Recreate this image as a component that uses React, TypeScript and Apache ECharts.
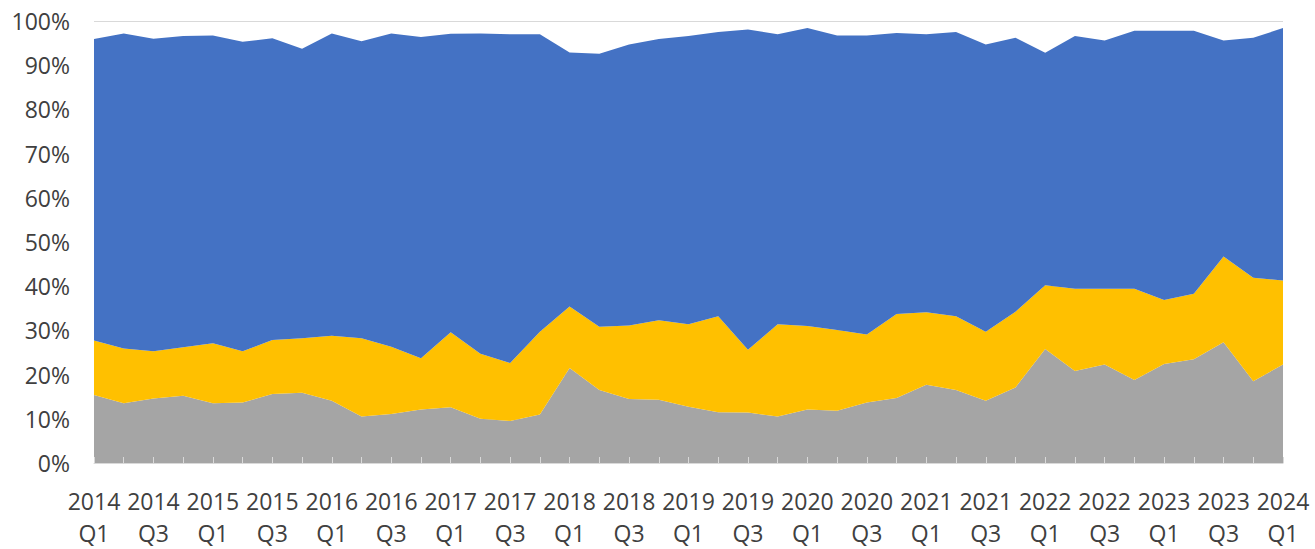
import React, { useEffect, useRef } from "react";
import * as echarts from "echarts";

const categories: string[] = [
  "2014\nQ1", "2014\nQ2", "2014\nQ3", "2014\nQ4",
  "2015\nQ1", "2015\nQ2", "2015\nQ3", "2015\nQ4",
  "2016\nQ1", "2016\nQ2", "2016\nQ3", "2016\nQ4",
  "2017\nQ1", "2017\nQ2", "2017\nQ3", "2017\nQ4",
  "2018\nQ1", "2018\nQ2", "2018\nQ3", "2018\nQ4",
  "2019\nQ1", "2019\nQ2", "2019\nQ3", "2019\nQ4",
  "2020\nQ1", "2020\nQ2", "2020\nQ3", "2020\nQ4",
  "2021\nQ1", "2021\nQ2", "2021\nQ3", "2021\nQ4",
  "2022\nQ1", "2022\nQ2", "2022\nQ3", "2022\nQ4",
  "2023\nQ1", "2023\nQ2", "2023\nQ3", "2023\nQ4",
  "2024\nQ1",
];

const grayValues: number[] = [
  15.4, 13.5, 14.6, 15.2, 13.5, 13.7, 15.6, 15.9, 14.1, 10.5,
  11.1, 12.1, 12.6, 10.0, 9.5, 11.0, 21.5, 16.5, 14.5, 14.3,
  12.7, 11.5, 11.4, 10.5, 12.1, 11.8, 13.7, 14.7, 17.7, 16.5,
  14.1, 17.1, 25.8, 20.8, 22.3, 18.8, 22.4, 23.5, 27.3, 18.5,
  22.3,
];

const yellowValues: number[] = [
  12.3, 12.4, 10.7, 11.0, 13.6, 11.6, 12.2, 12.3, 14.7, 17.7,
  15.2, 11.6, 17.0, 14.7, 13.1, 18.7, 13.9, 14.3, 16.6, 18.0,
  18.7, 21.7, 14.2, 20.9, 18.9, 18.3, 15.4, 19.0, 16.4, 16.7,
  15.6, 17.1, 14.4, 18.6, 17.1, 20.6, 14.5, 14.8, 19.4, 23.4,
  19.0,
];

const blueValues: number[] = [
  68.2, 71.3, 70.7, 70.4, 69.6, 70.0, 68.3, 65.5, 68.4, 67.2,
  70.9, 72.7, 67.5, 72.5, 74.4, 67.3, 57.5, 61.8, 63.6, 63.6,
  65.2, 64.3, 72.5, 65.6, 67.4, 66.6, 67.6, 63.6, 62.9, 64.3,
  65.0, 62.0, 52.6, 57.2, 56.2, 58.4, 60.9, 59.5, 48.9, 54.3,
  57.1,
];

const FONT = "'Open Sans', 'Liberation Sans', sans-serif";

export default function App() {
  const ref = useRef<HTMLDivElement>(null);

  useEffect(() => {
    document.body.style.margin = "0";
    if (!ref.current) return;
    const chart = echarts.init(ref.current, undefined, { renderer: "svg" });
    const mkSeries = (name: string, data: number[], color: string) => ({
      name,
      type: "line",
      stack: "total",
      data,
      symbol: "none",
      showSymbol: false,
      lineStyle: { width: 0 },
      areaStyle: { color, opacity: 1 },
      itemStyle: { color },
      emphasis: { disabled: true },
    });
    chart.setOption({
      animation: false,
      backgroundColor: "#ffffff",
      grid: { left: 94, right: 32, top: 21, bottom: 81 },
      xAxis: {
        type: "category",
        data: categories,
        boundaryGap: false,
        z: 5,
        axisLine: { show: true, lineStyle: { color: "#d9d9d9", width: 1 } },
        axisTick: {
          show: true,
          inside: true,
          length: 6,
          interval: 0,
          lineStyle: { color: "#d9d9d9", width: 1 },
        },
        axisLabel: {
          interval: 1,
          color: "#404040",
          fontFamily: FONT,
          fontSize: 23,
          lineHeight: 32,
          margin: 22,
        },
        splitLine: { show: false },
      },
      yAxis: {
        type: "value",
        min: 0,
        max: 100,
        interval: 10,
        axisLine: { show: false },
        axisTick: { show: false },
        axisLabel: {
          formatter: "{value}%",
          color: "#404040",
          fontFamily: FONT,
          fontSize: 23,
          margin: 24,
        },
        splitLine: { show: true, lineStyle: { color: "#d9d9d9", width: 1 } },
      },
      series: [
        mkSeries("Gray", grayValues, "#A5A5A5"),
        mkSeries("Yellow", yellowValues, "#FFC000"),
        mkSeries("Blue", blueValues, "#4472C4"),
      ],
    });
    return () => chart.dispose();
  }, []);

  return (
    <div
      ref={ref}
      style={{ position: "absolute", left: 0, top: 0, width: 1315, height: 549 }}
    />
  );
}
